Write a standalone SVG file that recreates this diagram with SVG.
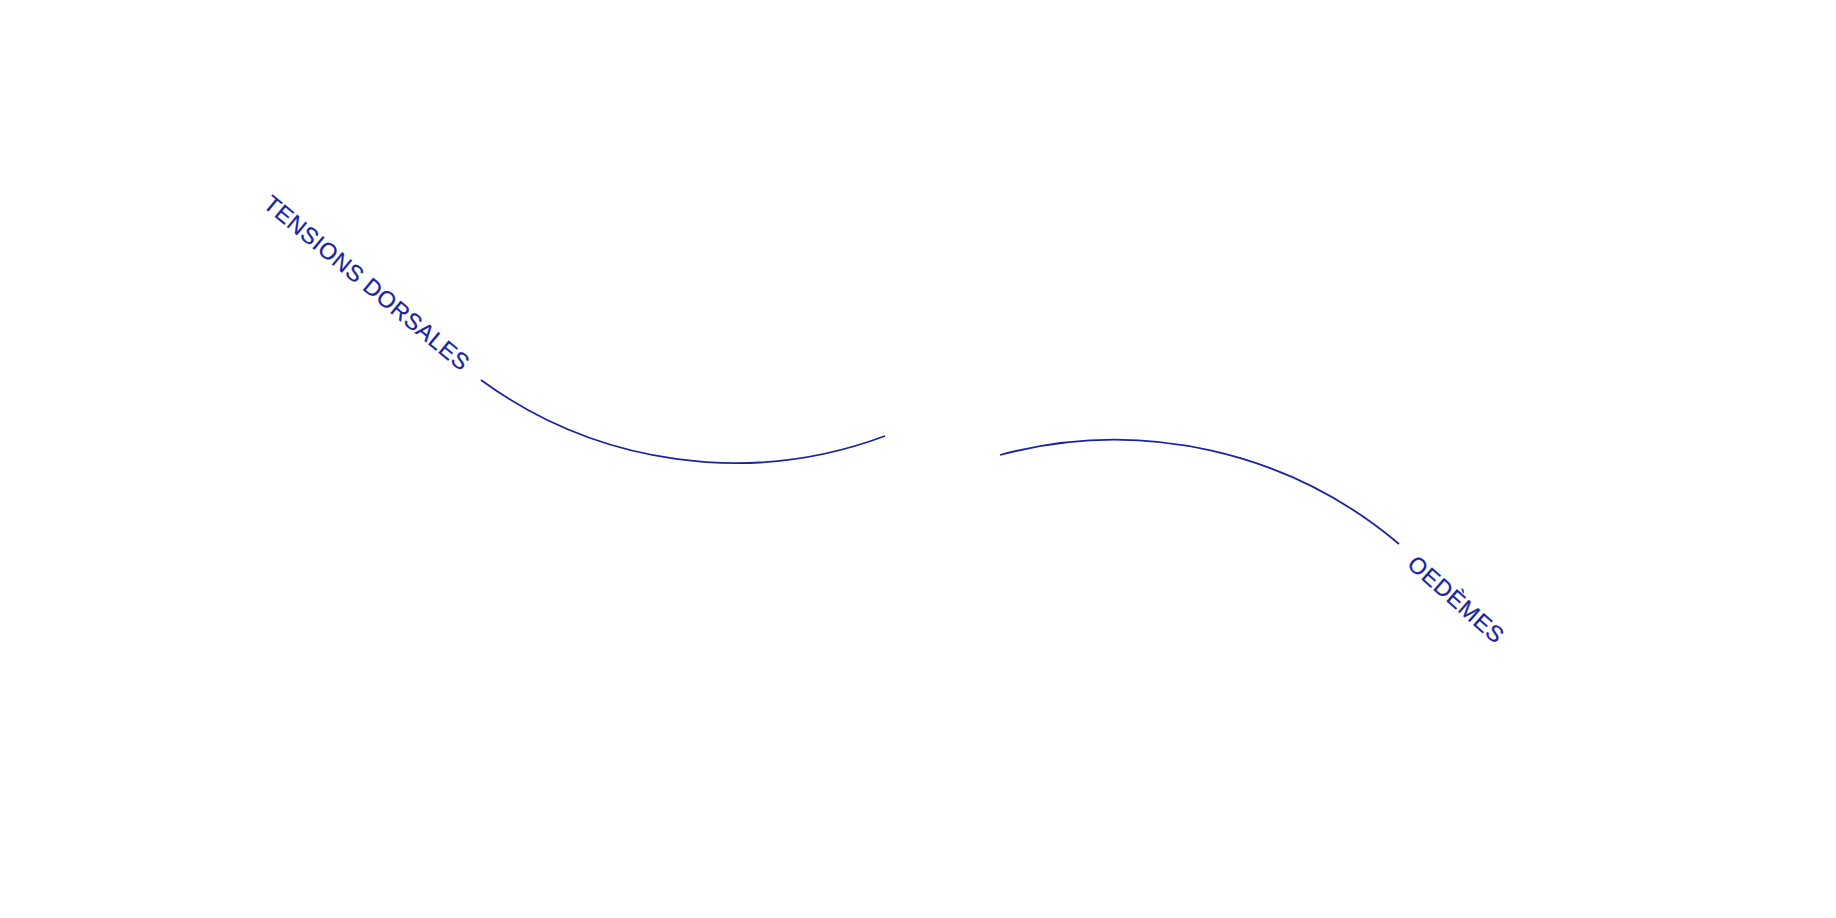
<svg xmlns="http://www.w3.org/2000/svg" width="1836" height="918" viewBox="0 0 1836 918">
  <style>
    .lbl { font-family: "Liberation Sans", Arial, sans-serif; font-size: 23px; fill: #1a24a0; letter-spacing: 0.6px; stroke: #1a24a0; stroke-width: 0.25px; }
    .arc { fill: none; stroke: #1a24a0; stroke-width: 1.8; }
  </style>
  <rect width="1836" height="918" fill="#ffffff"/>
  <g id="connectors">
    <path class="arc" d="M481 380 A430 430 0 0 0 885 436"/>
    <path class="arc" d="M1000 455 A440 440 0 0 1 1399 544"/>
  </g>
  <g id="node-tensions">
    <text class="lbl" transform="translate(261.9 206.2) rotate(39.7)">TENSIONS DORSALES</text>
  </g>
  <g id="node-oedemes">
    <text class="lbl" transform="translate(1406.1 566) rotate(41.3)">OEDÈMES</text>
  </g>
</svg>
